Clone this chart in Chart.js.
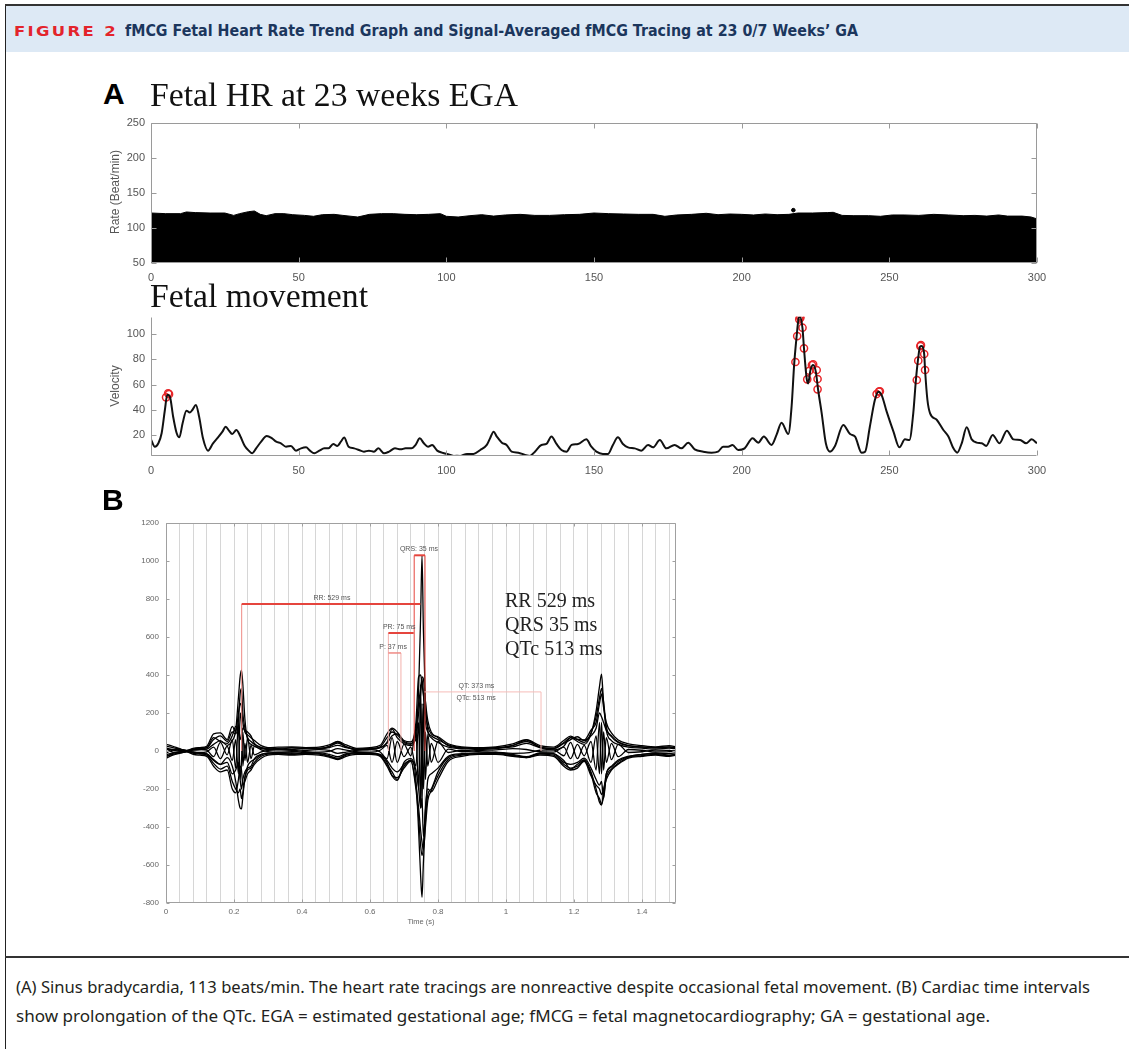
<!DOCTYPE html>
<html>
<head>
<meta charset="utf-8">
<script src="https://cdn.jsdelivr.net/npm/chart.js@4.4.1/dist/chart.umd.min.js"></script>
<style>
body { margin: 0; background: #fff; width: 1129px; height: 1049px; position: relative; overflow: hidden; font-family: "Liberation Sans", Arial, sans-serif; }
.abs { position: absolute; white-space: nowrap; }
canvas { position: absolute; }
#frameL { position: absolute; left: 5px; top: 4px; width: 1px; height: 1045px; background: #222; }
#frameT { position: absolute; left: 5px; top: 4px; width: 1124px; height: 2px; background: #333; }
#head { position: absolute; left: 6px; top: 6px; width: 1123px; height: 46px; background: #dde9f5; }
#sep { position: absolute; left: 5px; top: 956px; width: 1124px; height: 2px; background: #333; }
.serif { font-family: "Liberation Serif", "Times New Roman", serif; color: #111; }
.big { font-weight: bold; font-size: 30px; color: #000; line-height: 30px; }
.ylab { font-size: 12px; color: #555; line-height: 14px; }
.cap { font-family: "Noto Sans", "Open Sans", sans-serif; font-size: 16px; line-height: 20px; color: #231f20; }
</style>
</head>
<body>
<div id="frameL"></div>
<div id="frameT"></div>
<div id="head"></div>
<div id="sep"></div>

<canvas id="hr" width="1000" height="180" style="left:60px;top:110px"></canvas>
<canvas id="mv" width="1000" height="185" style="left:60px;top:300px"></canvas>
<canvas id="ecg" width="600" height="430" style="left:100px;top:505px"></canvas>

<div class="abs" data-w="104" style="left:14px;top:22px;font:bold 14px 'DejaVu Sans';letter-spacing:2px;color:#e3242b;line-height:18px">FIGURE 2</div>
<div class="abs" data-w="733" style="left:125px;top:21px;font:bold 16px 'DejaVu Sans';color:#1b365d;line-height:19px">fMCG Fetal Heart Rate Trend Graph and Signal-Averaged fMCG Tracing at 23 0/7 Weeks’ GA</div>

<div class="abs big" style="left:103px;top:79px">A</div>
<div class="abs serif" data-w="368" style="left:150px;top:76px;font-size:33px;line-height:38px">Fetal HR at 23 weeks EGA</div>
<div class="abs ylab" style="left:115px;top:192px;transform:translate(-50%,-50%) rotate(-90deg)">Rate (Beat/min)</div>

<div class="abs serif" data-w="218" style="left:150px;top:277px;font-size:33px;line-height:38px">Fetal movement</div>
<div class="abs ylab" style="left:115px;top:386px;transform:translate(-50%,-50%) rotate(-90deg)">Velocity</div>

<div class="abs big" style="left:102px;top:485px">B</div>
<div class="abs serif" style="left:505px;top:588px;font-size:20px;line-height:24px;color:#222">RR 529 ms<br>QRS 35 ms<br>QTc 513 ms</div>
<div class="abs" style="left:421px;top:917px;transform:translateX(-50%);font-size:7.5px;color:#666">Time (s)</div>

<div class="abs cap" data-w="1074" style="left:16px;top:977px">(A) Sinus bradycardia, 113 beats/min. The heart rate tracings are nonreactive despite occasional fetal movement. (B) Cardiac time intervals</div>
<div class="abs cap" data-w="974" style="left:16px;top:1006px">show prolongation of the QTc. EGA = estimated gestational age; fMCG = fetal magnetocardiography; GA = gestational age.</div>

<script>
// ---- A: fetal heart rate trend (top edge of the beat-by-beat trace) ----
const hrTime = [0, 5, 10, 12, 15, 20, 25, 28, 30, 33, 35, 37, 39, 42, 45, 48, 52, 55, 58, 62,
  65, 70, 74, 78, 82, 86, 90, 94, 98, 100, 104, 108, 112, 116, 120, 125, 130, 135, 140, 145,
  150, 155, 160, 165, 170, 174, 178, 183, 188, 192, 196, 200, 204, 208, 212, 216, 219, 224, 229, 231,
  234, 238, 243, 247, 251, 255, 260, 265, 270, 275, 279, 283, 287, 290, 295, 298, 300];
const hrRate = [121.4, 120.5, 120.5, 122.9, 122, 121.4, 121.4, 118, 120.5, 123.3, 124.3, 119.5, 117.6, 120.5, 120.5, 119, 118, 116.7, 119, 119.5,
  118, 115.7, 119.5, 120.5, 120.5, 119.5, 119, 119.5, 120.5, 116.7, 115.7, 117.6, 119, 117, 118.6, 119.5, 118, 118, 119, 119.5,
  121.4, 120.5, 120, 119.5, 119.5, 116.7, 118.6, 119.5, 121, 119, 120, 119.5, 118.6, 120, 119, 119.5, 121.4, 121.4, 122, 122.4,
  118, 117.6, 117.6, 116.7, 118.6, 118.6, 118, 119.5, 118.6, 117.6, 118, 117, 118.6, 117, 117, 115.7, 113];
const hrSpikeTime = [217.5];
const hrSpikeRate = [125.5];
const hrXTicks = [0, 50, 100, 150, 200, 250, 300];
const hrYTicks = [50, 100, 150, 200, 250];

// ---- A: fetal movement velocity ----
const mvTime = [0, 1.3, 2.5, 3.6, 4.7, 5.5, 6.4, 7.5, 8.7, 9.6, 10.7, 12, 13.1, 14, 15.2, 16.3, 17.6, 19.3, 21, 22.7,
  24.2, 25.3, 26.4, 27.5, 28.9, 30.2, 31.7, 33.1, 34.3, 35.6, 37.3, 39.2, 41, 42.4, 44, 45.7, 47.4, 49.1, 50.8, 52.5,
  53.8, 55.3, 57, 58.7, 60.1, 61.7, 63.1, 64.3, 65.4, 66.9, 68.8, 70.4, 72.1, 73.8, 75.5, 77, 78.9, 80.6, 82.6, 84.5,
  86.2, 88.2, 89.6, 91, 92.4, 93.8, 95.2, 96.9, 98.5, 100.2, 102.5, 104.7, 107, 109.2, 111.5, 113.7, 114.8, 116, 117.1, 118.8,
  120.4, 122.1, 124.4, 126.6, 128.3, 130, 132.2, 133.9, 135.6, 137.3, 139, 140.7, 142.4, 144.6, 147.4, 149.1, 150.8, 153, 154.7, 156.4,
  158.1, 159.8, 161.5, 163.8, 166, 168.3, 170, 172.3, 174.5, 177.3, 179.6, 181.9, 184.1, 187, 189.8, 192, 193.7, 195.4, 196.9, 198.8,
  201, 203.7, 205.6, 207.5, 210.1, 211.8, 213.5, 215.8, 216.9, 217.8, 218.6, 219.3, 219.7, 220.6, 221.1, 222, 222.5, 223.3, 224.2, 225.1,
  225.9, 227.1, 228.5, 229.9, 231.6, 234.4, 236.7, 238.4, 240.6, 241.8, 243.4, 245.1, 246.3, 247.4, 249.1, 251.4, 253.4, 255.3, 256.8, 258.1,
  259, 259.7, 260.4, 260.9, 261.8, 262.1, 262.9, 263.8, 266.1, 268.3, 270, 271.7, 273, 274.5, 276.2, 277.9, 279.6, 281.3, 282.8, 285,
  287.3, 289.8, 292, 294.3, 296.3, 298.2, 300];
const mvVel = [16.8, 11, 13.7, 21.6, 40, 52, 50.5, 34.7, 21.6, 18.4, 29.5, 39.5, 38, 40, 44, 34.7, 17.6, 7.9, 13.7, 18.4,
  22.9, 26.8, 23.7, 21, 24.2, 19.5, 11.8, 7.9, 5.8, 9.7, 15, 19.5, 17.6, 15, 13.7, 11, 11.6, 7.9, 9.7, 10.5,
  7.9, 5.8, 7.9, 9.7, 9.7, 13.2, 11.6, 15, 18.2, 11, 9.7, 8.4, 7.1, 7.9, 7.1, 9.7, 5.8, 7.1, 9.7, 8.9,
  9.7, 9.7, 12.4, 17.6, 13.7, 11, 12.4, 7.9, 6.3, 5.3, 3.7, 3.7, 5.3, 5.3, 8.4, 12.4, 17.6, 22.9, 19, 14.2,
  12.4, 7.1, 6.3, 4.5, 3.7, 7.1, 12.4, 13.2, 19, 13.2, 8.4, 7.1, 12.4, 13.2, 16.8, 11, 7.1, 5.3, 5.3, 12.4,
  18.4, 13.2, 10.5, 9.7, 7.9, 12.4, 10.5, 16.3, 9.7, 12.4, 9.7, 14.2, 8.9, 7.1, 6.3, 7.1, 11, 11, 12.4, 8.4,
  9.7, 17.6, 14.2, 19, 12.4, 20.3, 30, 21, 42.6, 76.8, 97.9, 112.4, 113.7, 104.5, 88.7, 65, 61, 71.6, 75.5, 70.3,
  55.8, 37.4, 13.7, 7.1, 11.6, 28.2, 21, 19, 6.3, 7.1, 26.8, 47.9, 54.5, 51.8, 38.7, 22.9, 10.5, 16.8, 16.3, 37.4,
  63.7, 79.5, 90, 90.5, 84.2, 71.6, 47.9, 37.4, 32.1, 24.2, 19, 9.7, 6.3, 13.7, 26.3, 16.8, 14.2, 13.7, 11.6, 20.3,
  13.7, 23.7, 16.8, 16.3, 13.7, 16.8, 13.7];
const mvPeakTime = [5.1, 5.8, 6.1, 218.2, 218.8, 219.5, 219.7, 219.9, 220.6, 221.1, 222.2, 222.9, 223.8, 224.2, 225.4, 225.7, 225.7,
  245.7, 246.5, 246.8, 259.3, 259.8, 260.5, 260.7, 261.8, 262.1];
const mvPeakVel = [50, 53.2, 52.5, 77.9, 98.4, 111.6, 114, 113, 105, 88.7, 64.2, 71, 75.5, 76, 71.6, 64.5, 56.3,
  52.6, 54.5, 54.8, 63.7, 79, 90.5, 91.2, 84.2, 71.6];
const mvYTicks = [20, 40, 60, 80, 100];

// ---- B: signal-averaged fMCG, overlaid channels ----
const ecgTime = [0, 0.02, 0.04, 0.06, 0.08, 0.10, 0.12, 0.14, 0.16, 0.18,
  0.195, 0.205, 0.213, 0.218, 0.222, 0.226, 0.232, 0.24, 0.25, 0.26,
  0.28, 0.30, 0.33, 0.37, 0.41, 0.45, 0.48, 0.505, 0.53, 0.56,
  0.60, 0.63, 0.65, 0.665, 0.68, 0.70, 0.72, 0.735, 0.743, 0.749,
  0.753, 0.757, 0.763, 0.77, 0.78, 0.80, 0.83, 0.87, 0.92, 0.97,
  1.02, 1.06, 1.10, 1.14, 1.17, 1.19, 1.21, 1.23, 1.25, 1.265,
  1.275, 1.281, 1.287, 1.295, 1.31, 1.33, 1.36, 1.40, 1.44, 1.48,
  1.50];
const ecgCh1 = [15, 8, 4, 0, 6, 8, 10, 35, 55, 30,
  55, 110, 280, 390, 425, 350, 170, 60, 35, 25,
  12, 8, 10, 8, 12, 10, 25, 48, 22, 6,
  8, 18, 45, 115, 70, 38, 28, 90, 320, 720,
  1030, 640, 260, 110, 70, 45, 20, 12, 8, 12,
  28, 58, 18, 6, 25, 70, 50, 35, 90, 210,
  340, 405, 250, 110, 55, 35, 20, 15, 10, 15,
  12];
const ecgCh2 = [-30, -12, -8, -2, -8, -12, -15, -45, -70, -35,
  -80, -160, -260, -300, -305, -240, -140, -80, -55, -45,
  -20, -12, -8, -12, -8, -12, -25, -38, -18, -8,
  -12, -22, -60, -130, -155, -60, -40, -150, -420, -660,
  -770, -590, -370, -230, -200, -110, -35, -18, -12, -8,
  -22, -35, -12, -15, -50, -95, -70, -45, -110, -200,
  -270, -285, -215, -120, -85, -55, -30, -18, -12, -22,
  -18];
const ecgCh3 = [35, 25, 12, 3, 14, 18, 25, 90, 95, 60,
  130, 100, 200, 250, 230, 150, 100, 85, 70, 55,
  28, 18, 20, 22, 18, 20, 32, 50, 32, 14,
  18, 30, 90, 120, 100, 55, 48, 150, 390, 400,
  350, 300, 200, 130, 90, 75, 38, 22, 18, 22,
  38, 60, 28, 20, 55, 78, 62, 58, 110, 150,
  250, 300, 230, 150, 95, 58, 38, 28, 22, 28,
  22];
const ecgCh4 = [-38, -22, -12, -4, -18, -22, -28, -80, -110, -100,
  -200, -220, -150, -80, -100, -180, -160, -120, -100, -70,
  -38, -22, -18, -22, -18, -22, -32, -45, -28, -18,
  -18, -28, -80, -130, -140, -90, -55, -200, -350, -500,
  -550, -500, -300, -200, -215, -150, -55, -28, -18, -18,
  -28, -35, -22, -28, -80, -100, -90, -55, -130, -180,
  -200, -230, -200, -150, -100, -70, -38, -28, -22, -28,
  -22];
const ecgCh5 = [10, 5, -2, 0, 10, 15, 18, 70, 50, 40,
  80, 130, 100, 60, 90, 120, 110, 100, 80, 40,
  18, 12, 8, 18, 12, 14, 18, 30, 18, 8,
  14, 18, 40, 80, 90, 50, 40, 60, 200, 300,
  380, 300, 150, 100, 80, 60, 32, 18, 14, 18,
  22, 40, 18, 12, 40, 60, 75, 55, 80, 120,
  200, 180, 150, 110, 80, 48, 28, 22, 18, 22,
  18];
const ecgCh6 = [-20, -10, -5, 0, -5, -10, -15, -50, -70, -60,
  -120, -100, -60, -150, -200, -150, -110, -90, -80, -40,
  -18, -10, -14, -10, -14, -10, -18, -30, -14, -10,
  -10, -18, -50, -90, -110, -70, -50, -100, -200, -300,
  -250, -450, -320, -150, -120, -90, -28, -14, -10, -10,
  -18, -30, -10, -14, -60, -70, -60, -38, -90, -150,
  -180, -160, -250, -120, -80, -48, -28, -18, -10, -14,
  -10];
const ecgCh7 = [-10, 5, 8, 2, -6, -8, -4, 20, -40, 25,
  -50, 60, -120, 200, 150, -80, 40, -60, 30, -20,
  -5, 3, 6, 4, -3, -6, -2, 12, 5, -4,
  -6, 4, 30, -60, 50, -30, 20, -80, 150, -300,
  250, -200, 100, -80, 40, -60, 10, -4, 3, 6,
  12, 8, -4, -6, 20, -40, 35, -25, 50, -100,
  150, -120, 100, -60, 40, -30, 8, 4, -5, -3,
  2];
const ecgCh8 = [12, -6, -10, -3, 5, 8, 4, -30, 45, -20,
  60, -90, 150, -150, -60, 100, -50, 70, -40, 25,
  6, -3, -6, -4, 3, 7, 3, -12, -6, 4,
  7, -5, -40, 70, -60, 35, -25, 100, -200, 350,
  -300, 250, -150, 90, -60, 50, -8, 4, -3, -6,
  -12, -10, 4, 6, -25, 45, -40, 30, -60, 80,
  -120, 150, -100, 70, -45, 35, -8, -4, 5, 3,
  -3];
const ecgCh9 = [25, 18, 10, 2, 8, 12, 16, 60, 80, 50,
  100, 90, 160, 300, 330, 200, 120, 70, 50, 35,
  18, 10, 14, 16, 14, 14, 22, 42, 22, 10,
  12, 22, 70, 100, 85, 45, 35, 120, 250, 330,
  390, 380, 260, 160, 100, 70, 28, 16, 12, 16,
  30, 50, 22, 14, 45, 70, 60, 45, 95, 180,
  280, 330, 260, 130, 75, 45, 28, 20, 16, 20,
  16];
const ecgCh10 = [-28, -18, -10, -3, -12, -16, -22, -65, -95, -80,
  -160, -200, -220, -200, -250, -220, -140, -100, -90, -60,
  -28, -16, -14, -18, -14, -16, -28, -42, -22, -14,
  -14, -24, -70, -110, -150, -80, -48, -180, -300, -420,
  -480, -520, -400, -260, -210, -130, -45, -22, -14, -14,
  -25, -32, -16, -22, -70, -90, -80, -50, -120, -220,
  -250, -280, -240, -140, -95, -65, -34, -24, -18, -24,
  -18];
const ecgXTicks = [0, 0.2, 0.4, 0.6, 0.8, 1, 1.2, 1.4];
const ecgYTicks = [-800, -600, -400, -200, 0, 200, 400, 600, 800, 1000, 1200];

// measured intervals (s) and the level (uV) each caliper is drawn at
const ivName = ['RR', 'QRS', 'PR', 'P', 'QT'];
const ivStart = [0.2226, 0.730, 0.654, 0.654, 0.760];
const ivEnd = [0.748, 0.7618, 0.7285, 0.691, 1.103];
const ivLevel = [774, 1030, 621, 516, 311];
const ivLabel = ['RR: 529 ms', 'QRS: 35 ms', 'PR: 75 ms', 'P: 37 ms', 'QT: 373 ms', 'QTc: 513 ms'];

Chart.defaults.font.family = '"Liberation Sans", Arial, sans-serif';

// MATLAB style axes: thin gray box with inward ticks
const matlabAxes = {
  id: 'matlab',
  afterDatasetsDraw(chart, args, o) {
    const { ctx, chartArea: a, scales: { x, y } } = chart;
    const L = o.len;
    const l = Math.round(a.left) + 0.5, r = Math.round(a.right) - 0.5;
    const t = Math.round(a.top) + 0.5, b = Math.round(a.bottom) - 0.5;
    ctx.save();
    ctx.strokeStyle = o.color;
    ctx.lineWidth = 1;
    ctx.beginPath();
    ctx.moveTo(l, t); ctx.lineTo(l, b); ctx.lineTo(r, b);
    if (o.box) { ctx.lineTo(r, t); ctx.lineTo(l, t); }
    o.xTicks.forEach(v => {
      const p = Math.round(x.getPixelForValue(v)) + 0.5;
      ctx.moveTo(p, b); ctx.lineTo(p, b - L);
      if (o.box) { ctx.moveTo(p, t); ctx.lineTo(p, t + L); }
    });
    o.yTicks.forEach(v => {
      const p = Math.round(y.getPixelForValue(v)) + 0.5;
      ctx.moveTo(l, p); ctx.lineTo(l + L, p);
      if (o.box) { ctx.moveTo(r, p); ctx.lineTo(r - L, p); }
    });
    ctx.stroke();
    ctx.restore();
  }
};

// red calipers + small labels on the averaged beat
const ecgMarks = {
  id: 'ecgMarks',
  afterDatasetsDraw(chart, args, o) {
    const { ctx, scales: { x, y } } = chart;
    const X = v => x.getPixelForValue(v), Y = v => y.getPixelForValue(v);
    ctx.save();
    ivName.forEach((n, i) => {
      const st = o.styles[i];
      ctx.strokeStyle = st.drop;
      ctx.lineWidth = 1;
      st.drops.forEach(k => {
        const xv = k === 's' ? ivStart[i] : ivEnd[i];
        ctx.beginPath();
        ctx.moveTo(X(xv), Y(ivLevel[i]));
        ctx.lineTo(X(xv), Y(0));
        ctx.stroke();
      });
      ctx.strokeStyle = st.color;
      ctx.lineWidth = st.width;
      ctx.beginPath();
      ctx.moveTo(X(ivStart[i]), Y(ivLevel[i]));
      ctx.lineTo(X(ivEnd[i]), Y(ivLevel[i]));
      ctx.stroke();
    });
    ctx.fillStyle = '#555';
    ctx.font = '7px "Liberation Sans"';
    ctx.textAlign = 'center';
    ctx.textBaseline = 'middle';
    ivLabel.forEach((txt, i) => ctx.fillText(txt, X(o.labelAt[i][0]), Y(o.labelAt[i][1])));
    ctx.restore();
  }
};

const pts = (xs, ys) => xs.map((v, i) => ({ x: v, y: ys[i] }));
const fixTicks = vals => s => { s.ticks = vals.map(v => ({ value: v })); };
const tickFont = { size: 11 };
const noGrid = { display: false, drawTicks: false };

new Chart(document.getElementById('hr'), {
  type: 'line',
  data: {
    datasets: [
      { data: pts(hrTime, hrRate), borderColor: '#000', backgroundColor: '#000', borderWidth: 1, pointRadius: 0, fill: 'start' },
      { type: 'scatter', data: pts(hrSpikeTime, hrSpikeRate), pointRadius: 1.8, backgroundColor: '#000', borderColor: '#000' }
    ]
  },
  options: {
    responsive: false, animation: false, events: [],
    layout: { padding: { left: 0, right: 23, top: 13, bottom: 0 } },
    plugins: { legend: { display: false }, tooltip: { enabled: false },
      matlab: { box: true, len: 5, color: '#9a9a9a', xTicks: hrXTicks, yTicks: hrYTicks } },
    scales: {
      x: { type: 'linear', min: 0, max: 300, afterBuildTicks: fixTicks(hrXTicks), afterFit: s => { s.height = 27; },
        grid: noGrid, border: { display: false },
        ticks: { padding: 8, color: '#555', font: tickFont, maxRotation: 0 } },
      y: { type: 'linear', min: 50, max: 250, afterBuildTicks: fixTicks(hrYTicks), afterFit: s => { s.width = 91; },
        grid: noGrid, border: { display: false },
        ticks: { padding: 6, color: '#555', font: tickFont } }
    }
  },
  plugins: [matlabAxes]
});

new Chart(document.getElementById('mv'), {
  type: 'line',
  data: {
    datasets: [
      { data: pts(mvTime, mvVel), borderColor: '#111', borderWidth: 2, pointRadius: 0, cubicInterpolationMode: 'monotone', fill: false },
      { type: 'scatter', data: pts(mvPeakTime, mvPeakVel), pointRadius: 3.6, borderWidth: 1.5, borderColor: '#e8262a', backgroundColor: 'rgba(0,0,0,0)' }
    ]
  },
  options: {
    responsive: false, animation: false, events: [],
    layout: { padding: { left: 0, right: 23, top: 16.7, bottom: 0 } },
    plugins: { legend: { display: false }, tooltip: { enabled: false },
      matlab: { box: false, len: 5, color: '#9a9a9a', xTicks: hrXTicks, yTicks: mvYTicks } },
    scales: {
      x: { type: 'linear', min: 0, max: 300, afterBuildTicks: fixTicks(hrXTicks), afterFit: s => { s.height = 29.3; },
        grid: noGrid, border: { display: false },
        ticks: { padding: 9, color: '#555', font: tickFont, maxRotation: 0 } },
      y: { type: 'linear', min: 3.9, max: 113.7, afterBuildTicks: fixTicks(mvYTicks), afterFit: s => { s.width = 91; },
        grid: noGrid, border: { display: false },
        ticks: { padding: 6, color: '#555', font: tickFont } }
    }
  },
  plugins: [matlabAxes]
});

const ecgChannels = [ecgCh1, ecgCh2, ecgCh3, ecgCh4, ecgCh5, ecgCh6, ecgCh7, ecgCh8, ecgCh9, ecgCh10];
const ecgGrid = [];
for (let i = 0; i <= 37; i++) ecgGrid.push(Math.round(i * 4) / 100);

new Chart(document.getElementById('ecg'), {
  type: 'line',
  data: {
    datasets: ecgChannels.map(ch => ({
      data: pts(ecgTime, ch), borderColor: '#000', borderWidth: 1.3, pointRadius: 0,
      cubicInterpolationMode: 'monotone', fill: false
    }))
  },
  options: {
    responsive: false, animation: false, events: [],
    layout: { padding: { left: 0, right: 24, top: 18, bottom: 0 } },
    plugins: { legend: { display: false }, tooltip: { enabled: false },
      matlab: { box: true, len: 3, color: '#a0a0a0', xTicks: ecgXTicks, yTicks: ecgYTicks },
      ecgMarks: {
        styles: [
          { color: '#e5453d', width: 2, drop: '#ee8a84', drops: ['s'] },
          { color: '#e5453d', width: 2, drop: '#e5453d', drops: ['s', 'e'] },
          { color: '#e5453d', width: 2, drop: '#f3b0ac', drops: ['s'] },
          { color: '#ef8a85', width: 1.5, drop: '#f3b0ac', drops: ['e'] },
          { color: '#f6bcb8', width: 1, drop: '#f6bcb8', drops: ['e'] }
        ],
        labelAt: [[0.488, 803], [0.744, 1061], [0.686, 650], [0.668, 545], [0.913, 341], [0.912, 280]]
      } },
    scales: {
      x: { type: 'linear', min: 0, max: 1.5, afterBuildTicks: fixTicks(ecgGrid), afterFit: s => { s.height = 32; },
        grid: { color: '#d6d6d6', drawTicks: false }, border: { display: false },
        ticks: { autoSkip: false, maxRotation: 0, padding: 4, color: '#666', font: { size: 8 },
          callback: v => ecgXTicks.includes(v) ? String(v) : '' } },
      y: { type: 'linear', min: -800, max: 1200, afterBuildTicks: fixTicks(ecgYTicks), afterFit: s => { s.width = 66; },
        grid: noGrid, border: { display: false },
        ticks: { padding: 7, color: '#666', font: { size: 8 }, callback: v => String(v) } }
    }
  },
  plugins: [matlabAxes, ecgMarks]
});

// squeeze text blocks to the widths they take in the figure
function fitAll() {
  document.querySelectorAll('[data-w]').forEach(el => {
    el.style.transform = '';
    const w = el.getBoundingClientRect().width;
    el.style.transformOrigin = '0 0';
    el.style.transform = 'scaleX(' + (+el.dataset.w / w) + ')';
  });
}
fitAll();
document.fonts.ready.then(fitAll);
</script>
</body>
</html>
